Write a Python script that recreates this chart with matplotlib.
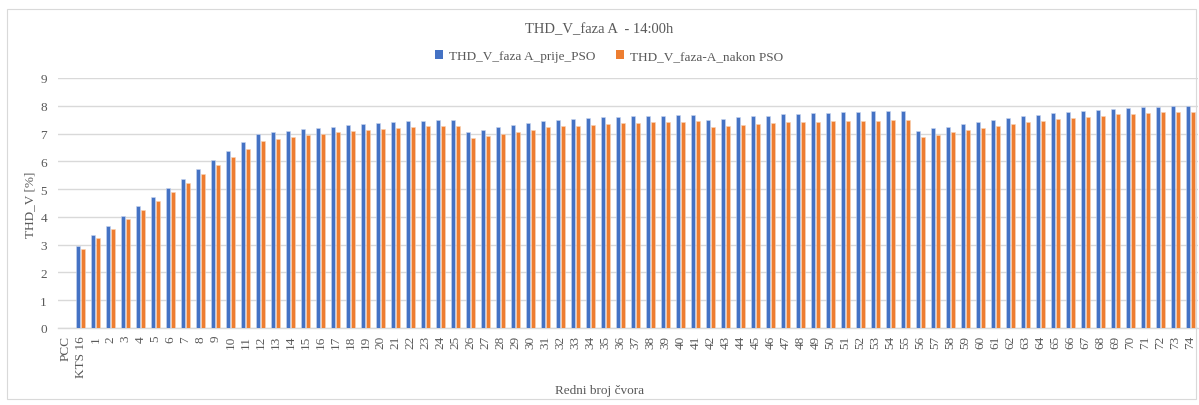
import matplotlib
matplotlib.use("Agg")
import matplotlib.pyplot as plt
from matplotlib.patches import Rectangle, Patch
import numpy as np

categories = ["PCC", "KTS 16"] + [str(i) for i in range(1, 75)]

prije_pso = [0.0, 2.96, 3.35, 3.69, 4.04, 4.38, 4.72, 5.05, 5.38, 5.71,
             6.04, 6.36, 6.68, 6.98, 7.04, 7.10, 7.15, 7.20, 7.25, 7.30,
             7.36, 7.38, 7.40, 7.44, 7.46, 7.49, 7.50, 7.06, 7.13, 7.23,
             7.30, 7.38, 7.45, 7.49, 7.52, 7.55, 7.58, 7.61, 7.62, 7.64,
             7.65, 7.67, 7.68, 7.50, 7.54, 7.58, 7.62, 7.65, 7.69, 7.71,
             7.73, 7.75, 7.76, 7.79, 7.80, 7.81, 7.81, 7.10, 7.19, 7.25,
             7.33, 7.40, 7.48, 7.55, 7.62, 7.68, 7.73, 7.77, 7.81, 7.86,
             7.89, 7.92, 7.94, 7.96, 7.98, 7.98]

nakon_pso = [0.0, 2.86, 3.25, 3.58, 3.92, 4.24, 4.58, 4.89, 5.22, 5.53,
             5.86, 6.15, 6.45, 6.75, 6.82, 6.88, 6.94, 6.99, 7.05, 7.08,
             7.13, 7.17, 7.20, 7.24, 7.26, 7.27, 7.29, 6.85, 6.92, 7.00,
             7.07, 7.14, 7.23, 7.26, 7.27, 7.31, 7.33, 7.37, 7.38, 7.40,
             7.42, 7.43, 7.44, 7.25, 7.29, 7.31, 7.33, 7.37, 7.40, 7.42,
             7.42, 7.44, 7.44, 7.45, 7.46, 7.48, 7.48, 6.88, 6.96, 7.04,
             7.12, 7.19, 7.26, 7.33, 7.40, 7.46, 7.51, 7.57, 7.61, 7.65,
             7.69, 7.71, 7.74, 7.76, 7.77, 7.79]

series_labels = ["THD_V_faza A_prije_PSO", "THD_V_faza-A_nakon PSO"]
title = "THD_V_faza A  - 14:00h"
xlabel = "Redni broj čvora"
ylabel = "THD_V [%]"

BLUE = "#4472C4"
ORANGE = "#ED7D31"
TXT = "#595959"
GRID = "#D9D9D9"

plt.rcParams['font.family'] = ['Liberation Serif', 'DejaVu Serif']

fig = plt.figure(figsize=(11.99, 4.06), dpi=100)
fig.patches.append(Rectangle((7/1199, 6/406), 1189/1199, 390/406, transform=fig.transFigure,
                             fill=False, edgecolor=GRID, linewidth=0.8))

ax = fig.add_axes([58/1199, 1 - 329/406, 1140/1199, 250/406])
x = np.arange(len(categories))
w = 0.25
ax.bar(x - 0.145, prije_pso, width=w, color=BLUE, edgecolor="#C9D6EF", linewidth=0.4, zorder=3)
ax.bar(x + 0.145, nakon_pso, width=w, color=ORANGE, edgecolor="#F9D3B5", linewidth=0.4, zorder=3)

ax.set_xlim(-0.5, len(categories) - 0.5)
ax.set_ylim(0, 9)
ax.set_yticks(range(0, 10))
ax.yaxis.grid(True, color=GRID, linewidth=1.0, zorder=0)
ax.set_axisbelow(True)
for s in ["top", "right", "left"]:
    ax.spines[s].set_visible(False)
ax.spines["bottom"].set_color(GRID)
ax.spines["bottom"].set_linewidth(1.0)
ax.set_xticks(x)
ax.set_xticklabels(categories, rotation=90, fontsize=9.5, color=TXT)
ax.tick_params(axis="both", length=0, colors=TXT, labelsize=9.5)
ax.tick_params(axis="y", pad=8)
ax.tick_params(axis="x", pad=5)

fig.text(0.5, 1 - 30/406, title, ha="center", va="center", fontsize=10.5, color=TXT)
fig.text(0.5, 1 - 391/406, xlabel, ha="center", va="center", fontsize=9.5, color=TXT)
fig.text(30/1199, 1 - 205/406, ylabel, ha="center", va="center", rotation=90, fontsize=9.5, color=TXT)

handles = [Patch(facecolor=BLUE), Patch(facecolor=ORANGE)]
fig.legend(handles, series_labels, loc="center", bbox_to_anchor=(0.508, 1 - 57/406), ncol=2,
           frameon=False, fontsize=9.5, labelcolor=TXT, handlelength=0.6, handleheight=0.6,
           handletextpad=0.5, columnspacing=1.5)

fig.savefig("out.png", dpi=100)
